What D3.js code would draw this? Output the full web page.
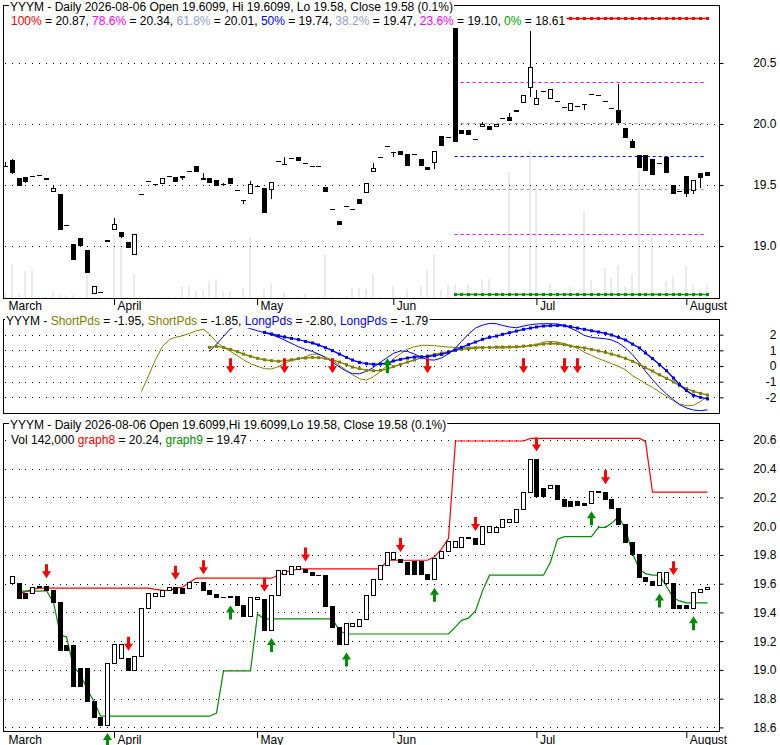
<!DOCTYPE html>
<html><head><meta charset="utf-8">
<script src="https://cdn.jsdelivr.net/npm/d3@7"></script>
<style>
body{margin:0;background:#fff}
text{font-family:"Liberation Sans",Arial,sans-serif;font-size:12px;white-space:pre}
</style>
</head><body>
<svg id="c" width="780" height="745" xmlns="http://www.w3.org/2000/svg"></svg>
<script>
// ---------------- DATA ----------------
const monthIdx = [0, 16, 37, 57, 78, 100];
const monthLabels = ["March", "April", "May", "Jun", "Jul", "August"];

const open = [19.655,19.705,19.56,19.563,19.576,19.585,19.555,19.454,19.424,19.175,
 19.014,19.066,18.967,18.612,18.62,19.045,19.137,19.112,19.03,18.932,
 19.43,19.534,19.511,19.514,19.576,19.563,19.575,19.615,19.656,19.556,
 19.555,19.541,19.508,19.555,19.455,19.38,19.432,19.492,19.473,19.464,
 19.696,19.668,19.722,19.727,19.678,19.657,19.659,19.486,19.302,19.205,
 19.327,19.304,19.388,19.44,19.617,19.728,19.82,19.769,19.781,19.754,
 19.757,19.71,19.645,19.691,19.902,19.897,20.784,19.951,19.951,19.873,
 19.984,19.984,19.984,20.047,20.06,20.107,20.178,20.30,20.16,20.268,
 20.21,20.189,20.142,20.115,20.148,20.163,20.245,20.240,20.189,20.129,
 20.115,19.964,19.861,19.746,19.746,19.71,19.678,19.732,19.497,19.451,
 19.574,19.459,19.598,19.6099];
const high = [19.69,19.71,19.56,19.563,19.576,19.585,19.555,19.50,19.424,19.175,
 19.014,19.066,18.967,18.672,18.62,19.047,19.227,19.112,19.03,19.096,
 19.43,19.534,19.511,19.555,19.576,19.563,19.575,19.615,19.656,19.596,
 19.555,19.541,19.515,19.555,19.455,19.38,19.533,19.492,19.473,19.522,
 19.696,19.727,19.722,19.727,19.678,19.657,19.659,19.486,19.302,19.205,
 19.327,19.304,19.388,19.518,19.683,19.728,19.82,19.769,19.781,19.754,
 19.757,19.71,19.645,19.776,19.902,19.897,20.784,19.951,19.951,19.873,
 20.016,19.984,19.996,20.047,20.087,20.117,20.235,20.765,20.279,20.268,
 20.286,20.189,20.142,20.175,20.148,20.163,20.245,20.240,20.189,20.129,
 20.325,19.964,19.874,19.746,19.746,19.71,19.678,19.732,19.497,19.451,
 19.574,19.539,19.598,19.6099];
const low = [19.652,19.60,19.499,19.527,19.576,19.585,19.553,19.454,19.142,19.174,
 18.89,19.003,18.787,18.612,18.62,19.045,19.137,19.077,18.996,18.932,
 19.43,19.534,19.511,19.514,19.576,19.534,19.55,19.615,19.613,19.553,
 19.525,19.504,19.508,19.513,19.455,19.35,19.432,19.492,19.281,19.39,
 19.696,19.668,19.722,19.703,19.678,19.657,19.659,19.448,19.302,19.181,
 19.327,19.304,19.351,19.44,19.617,19.728,19.82,19.738,19.753,19.665,
 19.757,19.665,19.630,19.637,19.83,19.897,19.857,19.924,19.915,19.873,
 19.984,19.957,19.984,20.047,20.031,20.107,20.178,20.232,20.16,20.268,
 20.21,20.189,20.142,20.115,20.148,20.12,20.245,20.240,20.189,20.129,
 20.013,19.892,19.808,19.648,19.620,19.590,19.678,19.607,19.433,19.451,
 19.41,19.432,19.486,19.58];
const close = [19.652,19.604,19.499,19.534,19.576,19.585,19.553,19.476,19.142,19.174,
 18.891,19.012,18.787,18.672,18.62,19.047,19.179,19.082,18.996,19.096,
 19.43,19.534,19.511,19.555,19.576,19.534,19.569,19.615,19.613,19.553,
 19.525,19.504,19.508,19.513,19.455,19.378,19.506,19.492,19.281,19.522,
 19.696,19.668,19.722,19.703,19.678,19.657,19.659,19.448,19.302,19.181,
 19.327,19.304,19.351,19.518,19.636,19.728,19.82,19.769,19.753,19.665,
 19.757,19.665,19.630,19.776,19.83,19.897,19.857,19.924,19.915,19.873,
 20.001,19.957,19.996,20.047,20.031,20.117,20.235,20.467,20.212,20.268,
 20.286,20.189,20.142,20.175,20.148,20.163,20.245,20.240,20.189,20.129,
 20.013,19.892,19.808,19.648,19.620,19.590,19.678,19.607,19.433,19.451,
 19.433,19.539,19.562,19.58];
// volume in thousands
const volume = [45,350,45,280,301,15,15,69,35,28,
 28,15,280,15,15,15,657,668,15,246,
 15,15,15,15,15,15,125,131,73,87,
 173,194,73,73,15,104,633,15,93,156,
 15,59,15,15,45,15,15,453,15,15,
 15,104,104,93,246,15,15,125,15,93,
 15,114,301,453,80,142,142,15,142,15,
 194,194,15,15,1308,15,15,1522,1163,15,
 149,15,15,114,15,893,183,15,311,208,
 339,121,246,1325,15,633,15,173,225,15,
 329,142,87,142];

// Fibonacci retracement levels
const fibPct = ["100%", "78.6%", "61.8%", "50%", "38.2%", "23.6%", "0%"];
const fibVal = [20.87, 20.34, 20.01, 19.74, 19.47, 19.10, 18.61];
const fibStart = 66;

// Oscillator panel (ShortPds / LongPds)
const shortRawStart = 20;
const shortRaw = [-1.62,-0.62,0.40,1.25,1.70,1.83,1.93,2.08,2.25,2.34,
 2.04,1.53,1.19,0.93,0.66,0.40,0.15,-0.02,-0.17,-0.19,
 -0.04,0.19,0.34,0.44,0.59,0.76,0.74,0.55,0.36,0.04,
 -0.28,-0.56,-0.81,-0.90,-0.68,-0.34,0.04,0.47,0.78,1.08,
 1.23,1.32,1.32,1.30,1.25,1.21,1.19,1.15,1.19,1.21,
 1.21,1.17,1.15,1.15,1.17,1.19,1.23,1.30,1.36,1.53,
 1.57,1.53,1.42,1.30,1.15,0.87,0.68,0.47,0.30,0.15,
 -0.02,-0.24,-0.62,-0.87,-1.13,-1.36,-1.66,-1.94,-2.22,-2.43,
 -2.53,-2.51,-2.26,-1.95];
const shortSigStart = 30;
const shortSig = [1.19,1.25,1.19,1.06,0.91,0.76,0.62,0.49,0.40,0.34,
 0.30,0.34,0.40,0.47,0.51,0.55,0.53,0.49,0.38,0.25,
 0.09,-0.07,-0.17,-0.28,-0.30,-0.28,-0.19,-0.04,0.10,0.25,
 0.38,0.53,0.64,0.74,0.83,0.91,1.00,1.06,1.10,1.15,
 1.17,1.19,1.21,1.21,1.21,1.23,1.27,1.30,1.34,1.40,
 1.44,1.42,1.36,1.27,1.21,1.15,1.06,0.96,0.87,0.76,
 0.64,0.49,0.30,0.10,-0.11,-0.32,-0.56,-0.79,-1.02,-1.26,
 -1.45,-1.62,-1.75,-1.85];
const longRawStart = 30;
const longRaw = [0.93,1.40,1.89,2.38,2.59,2.53,2.38,2.25,2.12,2.00,
 1.83,1.66,1.44,1.23,1.06,0.93,0.76,0.55,0.25,-0.07,
 -0.34,-0.49,-0.49,-0.34,-0.09,0.25,0.55,0.81,0.96,0.93,
 0.76,0.55,0.40,0.38,0.51,0.78,1.15,1.57,2.04,2.42,
 2.61,2.72,2.70,2.59,2.49,2.44,2.55,2.64,2.68,2.70,
 2.70,2.68,2.59,2.42,2.21,1.95,1.83,1.78,1.74,1.66,
 1.47,1.15,0.72,0.19,-0.34,-0.87,-1.36,-1.79,-2.15,-2.47,
 -2.68,-2.81,-2.85,-2.80];
const longSigStart = 38;
const longSig = [2.15,2.04,1.93,1.85,1.76,1.68,1.57,1.47,1.34,1.17,
 0.98,0.76,0.55,0.38,0.23,0.15,0.11,0.13,0.19,0.32,
 0.42,0.51,0.57,0.59,0.61,0.66,0.74,0.87,1.02,1.19,
 1.36,1.53,1.70,1.83,1.91,2.02,2.12,2.23,2.34,2.42,
 2.49,2.55,2.57,2.59,2.57,2.51,2.42,2.34,2.25,2.17,
 2.08,1.98,1.83,1.66,1.40,1.15,0.83,0.47,0.09,-0.30,
 -0.77,-1.19,-1.57,-1.87,-2.0,-2.1];
const midSell = [33, 41, 48, 62, 76, 82, 84];
const midBuy = [56];

// Lower panel: stop lines and signals
const graph8Start = 2;
const graph8 = [19.529,19.545,19.56,
 19.569,19.569,19.569,19.569,19.569,19.569,19.569,19.569,19.569,19.569,19.569,19.569,19.569,19.569,19.569,19.569,19.569,
 19.56,19.553,19.553,19.569,19.575,19.61,
 19.638,19.638,19.638,19.638,19.638,19.638,19.638,19.638,19.638,19.638,19.638,19.638,
 19.66,19.68,19.69,
 19.703,19.703,19.703,19.703,19.703,19.703,19.703,19.703,19.703,19.703,19.703,19.703,19.703,
 19.763,19.763,19.763,19.763,19.763,19.763,19.763,19.787,19.84,19.915,
 20.593,20.593,20.593,20.593,20.593,20.593,20.593,20.593,20.593,20.593,20.593,
 20.611,20.611,20.611,20.611,20.611,20.611,20.611,20.611,20.611,20.611,20.611,20.611,20.611,20.611,20.611,20.611,20.611,
 20.59,
 20.237,20.237,20.237,20.237,20.237,20.237,20.237,20.237,20.237];
const graph9Start = 2;
const graph9 = [19.548,19.548,19.548,19.548,19.552,19.47,19.24,19.23,19.02,18.97,18.86,18.775,18.68,
 18.678,18.678,18.678,18.678,18.678,18.678,18.678,18.678,18.678,18.678,18.678,18.678,18.678,18.678,18.678,18.678,
 18.70,18.993,18.993,18.993,18.993,18.993,19.388,
 19.355,19.355,19.355,19.355,19.355,19.355,19.355,19.355,19.355,19.355,19.355,
 19.27,
 19.25,19.25,19.25,19.25,19.25,19.25,19.25,19.25,19.25,19.25,19.25,19.25,19.25,19.25,19.25,19.25,
 19.30,19.345,19.36,19.41,19.55,
 19.659,19.659,19.659,19.659,19.659,19.659,19.659,19.659,19.659,
 19.75,19.91,19.927,19.927,19.927,19.927,19.927,19.992,19.992,20.02,20.066,
 19.98,19.81,19.70,19.67,19.66,19.66,19.58,19.50,19.48,19.467,19.467,19.467,19.467];
const lowSell = [6, 18, 25, 29, 38, 44, 58, 69, 78, 88, 98];
const lowBuy = [15, 33, 39, 50, 63, 86, 96, 101];
// fill of lower-panel candles (W = hollow, B = filled), index 0 has no bar
const lowerFill = ("-" + "WBBWBBBBBB" + "BBBBWWWBWW" + "WWWWBBWBBB" + "BBBBBWWBWW" + "WWWBBBBBBW" +
  "WWWWWWWBBB" + "BBWWWWWWBW" + "WWWWWWWBBW" + "BBBBBWBBBB" + "BBBBBWWBBB" + "WWW").split("");

const topTicks = [19.0, 19.5, 20.0, 20.5];
const midTicks = [2, 1, 0, -1, -2];
const lowTicks = [18.6, 18.8, 19.0, 19.2, 19.4, 19.6, 19.8, 20.0, 20.2, 20.4, 20.6];

// ---------------- DRAW ----------------
const svg = d3.select("#c");
const C = {red:"#ff0000", mag:"#ff00ff", grey:"#a0a0a0", lblue:"#8fa1c9", blue:"#0000ff",
  green:"#008c00", fgreen:"#00a000", fline:"#009000", olive:"#808000", vol:"#ebebeb"};
const L = 3, R = 719;
const x = d3.scaleLinear().domain([0, 103]).range([5, 5 + 103 * 6.813]);
const px = i => Math.round(x(i));
const P = {
  top: {y0: 5, y1: 298},
  mid: {y0: 319, y1: 413},
  low: {y0: 423, y1: 731}
};
const yTop = d3.scaleLinear().domain([18.574, 20.975]).range([298, 5]);
const yVol = d3.scaleLinear().domain([0, 1522]).range([298, 151.3]);
const yMid = d3.scaleLinear().domain([-3, 3]).range([413, 319]);
const yLow = d3.scaleLinear().domain([18.577, 20.716]).range([730.7, 423.3]);

function dots(g, yy) {
  const yi = Math.round(yy);
  for (let k = 0; k <= 105; k++) {
    const xx = px(k);
    if (xx <= L + 1 || xx >= R) continue;
    g.append("rect").attr("x", xx).attr("y", yi).attr("width", 1).attr("height", 1).attr("fill", "#000");
  }
}
function frame(p) {
  svg.append("rect").attr("x", L + 0.5).attr("y", p.y0 + 0.5).attr("width", R - L).attr("height", p.y1 - p.y0)
    .attr("fill", "none").attr("stroke", "#000").attr("stroke-width", 1);
}
function legend(xp, yp, segs) {
  const g = svg.append("g");
  const t = g.append("text").attr("x", xp).attr("y", yp);
  segs.forEach(s => t.append("tspan").attr("fill", s[1] || "#000").text(s[0]));
  const bb = t.node().getBBox();
  g.insert("rect", "text").attr("x", bb.x - 1).attr("y", bb.y).attr("width", bb.width + 2)
    .attr("height", bb.height).attr("fill", "#fff");
}
function arrow(g, cx, tipY, dir, color, len) {
  // dir = 1 pointing down (tip at bottom), -1 pointing up
  const s = dir, hl = 7, sw = 1.5, hw = 4.5;
  const b = tipY - s * len, hb = tipY - s * hl;
  const d = `M${cx - sw},${b} L${cx + sw},${b} L${cx + sw},${hb} L${cx + hw},${hb} L${cx},${tipY} L${cx - hw},${hb} L${cx - sw},${hb} Z`;
  g.append("path").attr("d", d).attr("fill", color);
}
function rightAxis(scale, ticks, fmt) {
  const g = svg.append("g").attr("transform", `translate(${R + 0.5},0)`)
    .call(d3.axisRight(scale).tickValues(ticks).tickSize(4).tickFormat(fmt));
  g.select(".domain").remove();
  g.selectAll("text").attr("x", 57).attr("text-anchor", "end")
    .attr("font-family", '"Liberation Sans",Arial,sans-serif').attr("font-size", 12).attr("fill", "#000");
  g.attr("font-family", null).attr("font-size", null);
}
function bottomAxis(yPos, labelY) {
  const g = svg.append("g").attr("transform", `translate(0,${yPos})`)
    .call(d3.axisBottom(x).tickValues(monthIdx).tickSize(7).tickFormat((d, k) => monthLabels[k]));
  g.select(".domain").remove();
  g.selectAll(".tick line").attr("stroke", "#000").filter(d => d === 0).remove();
  g.selectAll("text").attr("text-anchor", "start").attr("x", 3).attr("y", labelY).attr("dy", 0)
    .attr("font-family", '"Liberation Sans",Arial,sans-serif').attr("font-size", 12).attr("fill", "#000");
  g.attr("font-family", null).attr("font-size", null);
}

// ---- TOP PANEL ----
const gTop = svg.append("g");
gTop.selectAll("rect.vol").data(volume).join("rect").attr("class", "vol")
  .attr("x", (d, i) => px(i) - 1).attr("width", 2)
  .attr("y", d => yVol(d)).attr("height", d => 298 - yVol(d)).attr("fill", C.vol);
topTicks.forEach(t => dots(gTop, yTop(t)));
const fibX0 = x(fibStart), fibX1 = x(103);
const fibStyle = [
  {c: C.red, m: true}, {c: C.mag}, {c: C.grey}, {c: C.blue}, {c: C.grey}, {c: C.mag}, {c: C.fline, m: true}
];
fibVal.forEach((v, k) => {
  const st = fibStyle[k], yy = Math.round(yTop(v)) + 0.5;
  if (st.m) {
    gTop.append("line").attr("x1", fibX0).attr("x2", fibX1).attr("y1", yy).attr("y2", yy)
      .attr("stroke", st.c).attr("stroke-width", 1.5);
    for (let i = fibStart; i <= 103; i++)
      gTop.append("rect").attr("x", px(i) - 1).attr("y", yy - 1.5).attr("width", 3).attr("height", 3).attr("fill", st.c);
  } else {
    gTop.append("line").attr("x1", fibX0).attr("x2", fibX1).attr("y1", yy).attr("y2", yy)
      .attr("stroke", st.c).attr("stroke-width", 1).attr("stroke-dasharray", "3,3");
  }
});
open.forEach((o, i) => {
  const c = close[i], xc = px(i);
  const yh = Math.round(yTop(high[i])), yl = Math.round(yTop(low[i]));
  const yt = Math.round(yTop(Math.max(o, c))), yb = Math.round(yTop(Math.min(o, c)));
  if (yl > yh) gTop.append("line").attr("x1", xc + 0.5).attr("x2", xc + 0.5).attr("y1", yh).attr("y2", yl + 1)
    .attr("stroke", "#000").attr("stroke-width", 1);
  const hgt = yb - yt;
  if (c > o && hgt >= 2) {
    gTop.append("rect").attr("x", xc - 2 + 0.5).attr("y", yt + 0.5).attr("width", 4).attr("height", hgt)
      .attr("fill", "#fff").attr("stroke", "#000").attr("stroke-width", 1);
  } else {
    gTop.append("rect").attr("x", xc - 2).attr("y", yt).attr("width", 5).attr("height", Math.max(1, hgt + (hgt >= 1 ? 1 : 0)))
      .attr("fill", "#000");
  }
});
frame(P.top);
rightAxis(yTop, topTicks, d3.format(".1f"));
bottomAxis(298, 12);

// ---- MIDDLE PANEL ----
const gMid = svg.append("g");
midTicks.forEach(t => dots(gMid, yMid(t)));
function series(arr, start) { return arr.map((v, k) => ({i: start + k, v})); }
const line = d3.line().x(d => px(d.i) + 0.5).y(d => yMid(d.v));
function midLine(arr, start, color, thick) {
  const s = series(arr, start);
  gMid.append("path").datum(s).attr("d", line).attr("fill", "none").attr("stroke", color)
    .attr("stroke-width", thick ? 1.4 : 1);
  if (thick) s.forEach(d => gMid.append("rect").attr("x", px(d.i) - 1).attr("y", yMid(d.v) - 1.5)
    .attr("width", 3).attr("height", 3).attr("fill", color));
}
midLine(shortRaw, shortRawStart, C.olive, false);
midLine(longRaw, longRawStart, C.blue, false);
midLine(shortSig, shortSigStart, C.olive, true);
midLine(longSig, longSigStart, C.blue, true);
midSell.forEach(i => arrow(gMid, px(i) + 0.5, yMid(-0.47), 1, C.red, 15));
midBuy.forEach(i => arrow(gMid, px(i) + 0.5, yMid(0.49), -1, C.green, 15));
frame(P.mid);
rightAxis(yMid, midTicks, d => String(d));

// ---- LOWER PANEL ----
const gLow = svg.append("g");
lowTicks.forEach(t => dots(gLow, yLow(t)));
const lLine = d3.line().x(d => px(d.i) + 0.5).y(d => yLow(d.v));
gLow.append("path").datum(series(graph8, graph8Start)).attr("d", lLine).attr("fill", "none")
  .attr("stroke", C.red).attr("stroke-width", 1.2);
gLow.append("path").datum(series(graph9, graph9Start)).attr("d", lLine).attr("fill", "none")
  .attr("stroke", C.green).attr("stroke-width", 1.2);
for (let i = 1; i < close.length; i++) {
  const a = close[i - 1], b = close[i], xc = px(i);
  const yt = Math.round(yLow(Math.max(a, b))), yb = Math.round(yLow(Math.min(a, b)));
  const hgt = yb - yt;
  if (lowerFill[i] === "W" && hgt >= 2) {
    gLow.append("rect").attr("x", xc - 2 + 0.5).attr("y", yt + 0.5).attr("width", 4).attr("height", hgt)
      .attr("fill", "#fff").attr("stroke", "#000").attr("stroke-width", 1);
  } else {
    gLow.append("rect").attr("x", xc - 2).attr("y", yt).attr("width", 5).attr("height", Math.max(1, hgt + (hgt >= 1 ? 1 : 0)))
      .attr("fill", "#000");
  }
}
lowSell.forEach(i => {
  const topV = Math.max(close[i - 1], close[i]);
  arrow(gLow, px(i) + 0.5, yLow(topV) - 7.5, 1, C.red, 14);
});
lowBuy.forEach(i => {
  const botV = Math.min(close[i - 1], close[i]);
  arrow(gLow, px(i) + 0.5, yLow(botV) + 8.5, -1, C.green, 14);
});
frame(P.low);
rightAxis(yLow, lowTicks, d3.format(".1f"));
bottomAxis(731, 12.5);

// ---- LEGENDS ----
legend(10, 10.5, [["YYYM - Daily 2026-08-06 Open 19.6099, Hi 19.6099, Lo 19.58, Close 19.58 (0.1%)"]]);
const fibColors = [C.red, C.mag, C.lblue, C.blue, C.lblue, C.mag, C.fgreen];
const fibSegs = [];
fibPct.forEach((p, k) => {
  fibSegs.push([p, fibColors[k]]);
  fibSegs.push([" = " + fibVal[k].toFixed(2) + (k < fibPct.length - 1 ? ", " : "")]);
});
legend(11, 24.5, fibSegs);
legend(6, 325, [["YYYM - "], ["ShortPds", C.olive], [" = " + shortRaw[shortRaw.length - 1].toFixed(2) + ", "],
  ["ShortPds", C.olive], [" = " + shortSig[shortSig.length - 1].toFixed(2) + ", "],
  ["LongPds", C.blue], [" = " + longRaw[longRaw.length - 1].toFixed(2) + ", "],
  ["LongPds", C.blue], [" = -1.79"]]);
legend(10, 428.5, [["YYYM - Daily 2026-08-06 Open 19.6099,Hi 19.6099,Lo 19.58, Close 19.58 (0.1%)"]]);
legend(11, 443.5, [["Vol 142,000 "], ["graph8", C.red], [" = 20.24, "], ["graph9", C.green], [" = 19.47"]]);
</script>
</body></html>
